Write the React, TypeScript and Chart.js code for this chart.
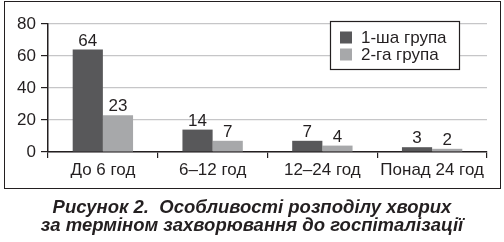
import React, { useEffect, useRef } from "react";
import { Chart, registerables } from "chart.js";

Chart.register(...registerables);

const categories = ["До 6 год", "6–12 год", "12–24 год", "Понад 24 год"];
const group1 = [64, 14, 7, 3];
const group2 = [23, 7, 4, 2];
const seriesLabels = ["1-ша група", "2-га група"];
const seriesColors = ["#58585a", "#a7a8aa"];
const yTicks = [0, 20, 40, 60, 80];
const captionLines = [
  "Рисунок 2.  Особливості розподілу хворих",
  "за терміном захворювання до госпіталізації",
];

const FONT = "'Liberation Sans', Arial, Helvetica, sans-serif";
const FS = 17;

const labelsPlugin = {
  id: "valueLabels",
  afterDatasetsDraw(chart: any) {
    const ctx = chart.ctx;
    ctx.save();
    ctx.font = `${FS}px ${FONT}`;
    ctx.fillStyle = "#231f20";
    ctx.textAlign = "center";
    ctx.textBaseline = "alphabetic";
    chart.data.datasets.forEach((ds: any, i: number) => {
      const meta = chart.getDatasetMeta(i);
      meta.data.forEach((bar: any, j: number) => {
        ctx.fillText(String(ds.data[j]), bar.x, bar.y - 4);
      });
    });
    ctx.restore();
  },
};

const legendPlugin = {
  id: "boxLegend",
  afterDraw(chart: any) {
    const ctx = chart.ctx;
    const x = 330.5, y = 21.5, w = 129, h = 48;
    ctx.save();
    ctx.fillStyle = "#ffffff";
    ctx.fillRect(x, y, w, h);
    ctx.strokeStyle = "#231f20";
    ctx.lineWidth = 1.2;
    ctx.strokeRect(x, y, w, h);
    ctx.font = `${FS}px ${FONT}`;
    ctx.textBaseline = "middle";
    ctx.textAlign = "left";
    chart.data.datasets.forEach((ds: any, i: number) => {
      const cy = 37.5 + i * 17;
      ctx.fillStyle = ds.backgroundColor;
      ctx.fillRect(340, cy - 6, 12, 12);
      ctx.fillStyle = "#231f20";
      ctx.fillText(ds.label, 361, cy + 1);
    });
    ctx.restore();
  },
};

export default function App() {
  const ref = useRef<HTMLCanvasElement>(null);
  useEffect(() => {
    document.body.style.margin = "0";
    const chart = new Chart(ref.current!, {
      type: "bar",
      data: {
        labels: categories,
        datasets: [
          { label: seriesLabels[0], data: group1, backgroundColor: seriesColors[0], borderWidth: 0 },
          { label: seriesLabels[1], data: group2, backgroundColor: seriesColors[1], borderWidth: 0 },
        ],
      },
      options: {
        animation: false,
        responsive: false,
        maintainAspectRatio: false,
        events: [],
        layout: { padding: { top: 24, right: 17, left: 0, bottom: 0 } },
        datasets: { bar: { categoryPercentage: 0.55, barPercentage: 1 } },
        plugins: { legend: { display: false }, tooltip: { enabled: false } },
        scales: {
          x: {
            afterFit(s: any) { s.height = 38; },
            grid: { drawOnChartArea: false, tickLength: 6, color: "#231f20", lineWidth: 1.2 },
            border: { color: "#231f20", width: 1.5 },
            ticks: { color: "#231f20", font: { family: FONT, size: FS }, padding: 2, maxRotation: 0 },
          },
          y: {
            min: 0,
            max: 80,
            afterFit(s: any) { s.width = 48; },
            afterBuildTicks(s: any) { s.ticks = yTicks.map((v) => ({ value: v })); },
            grid: { color: "#c6c6c8", tickColor: "#231f20", tickLength: 7, lineWidth: 1.2 },
            border: { color: "#231f20", width: 1.5 },
            ticks: { color: "#231f20", font: { family: FONT, size: FS }, padding: 5 },
          },
        },
      },
      plugins: [labelsPlugin, legendPlugin],
    });
    return () => chart.destroy();
  }, []);

  return (
    <div style={{ position: "absolute", left: 0, top: 0, width: 504, height: 242, background: "#fff" }}>
      <canvas ref={ref} width={504} height={190} style={{ position: "absolute", left: 0, top: 0, width: 504, height: 190 }} />
      <div
        style={{
          position: "absolute",
          left: 4,
          top: 1,
          width: 497,
          height: 188,
          boxSizing: "border-box",
          border: "1.5px solid #231f20",
          pointerEvents: "none",
        }}
      />
      <div
        style={{
          position: "absolute",
          left: 0,
          top: 198,
          width: 504,
          textAlign: "center",
          fontFamily: FONT,
          fontWeight: "bold",
          fontStyle: "italic",
          fontSize: 18.5,
          lineHeight: "18px",
          color: "#231f20",
        }}
      >
        {captionLines.map((l, i) => (
          <div key={i} style={{ whiteSpace: "pre" }}>{l}</div>
        ))}
      </div>
    </div>
  );
}
